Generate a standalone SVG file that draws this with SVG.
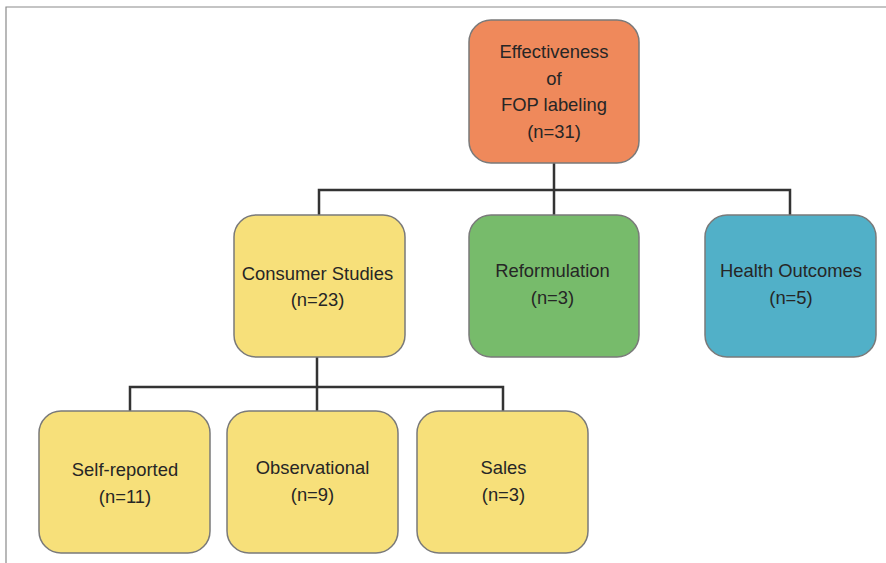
<svg xmlns="http://www.w3.org/2000/svg" width="886" height="563" viewBox="0 0 886 563">
  <style>
    .box { stroke: #7a7a7a; stroke-width: 1.5; }
    .orange { fill: #ef895b; }
    .yellow { fill: #f7e07a; }
    .green { fill: #77bb6b; }
    .blue { fill: #51b0c8; }
    .lbl { font-family: "Liberation Sans", Arial, sans-serif; font-size: 18.4px; fill: #262626; text-anchor: middle; }
    .link { fill: none; stroke: #333; stroke-width: 2.5; }
  </style>
  <rect width="886" height="563" fill="#ffffff"/>
  <!-- frame -->
  <path d="M6,563 V7 H886" fill="none" stroke="#8a8a8a" stroke-width="1.2"/>

  <g id="connectors">
    <path class="link" d="M554,163 V190 M319,215 V190 H790 V215 M554,190 V215"/>
    <path class="link" d="M317,357 V387 M130,411 V387 H503 V411 M317,387 V411"/>
  </g>

  <g id="root">
    <rect class="box orange" x="469" y="20" width="170" height="143" rx="22"/>
    <text class="lbl" x="554" y="58">Effectiveness</text>
    <text class="lbl" x="554" y="85">of</text>
    <text class="lbl" x="554" y="111">FOP labeling</text>
    <text class="lbl" x="554" y="138">(n=31)</text>
  </g>

  <g id="consumer">
    <rect class="box yellow" x="234" y="215" width="171" height="142" rx="22"/>
    <text class="lbl" x="317.5" y="280">Consumer Studies</text>
    <text class="lbl" x="317.5" y="306">(n=23)</text>
  </g>

  <g id="reformulation">
    <rect class="box green" x="469" y="215" width="170" height="142" rx="22"/>
    <text class="lbl" x="552.5" y="277">Reformulation</text>
    <text class="lbl" x="552.5" y="304">(n=3)</text>
  </g>

  <g id="health">
    <rect class="box blue" x="705" y="215" width="171" height="142" rx="22"/>
    <text class="lbl" x="791" y="277">Health Outcomes</text>
    <text class="lbl" x="791" y="304">(n=5)</text>
  </g>

  <g id="self-reported">
    <rect class="box yellow" x="39" y="411" width="171" height="142" rx="22"/>
    <text class="lbl" x="125" y="476">Self-reported</text>
    <text class="lbl" x="125" y="503">(n=11)</text>
  </g>

  <g id="observational">
    <rect class="box yellow" x="227" y="411" width="171" height="142" rx="22"/>
    <text class="lbl" x="312.5" y="474">Observational</text>
    <text class="lbl" x="312.5" y="501">(n=9)</text>
  </g>

  <g id="sales">
    <rect class="box yellow" x="417" y="411" width="171" height="142" rx="22"/>
    <text class="lbl" x="503.5" y="474">Sales</text>
    <text class="lbl" x="503.5" y="501">(n=3)</text>
  </g>
</svg>
